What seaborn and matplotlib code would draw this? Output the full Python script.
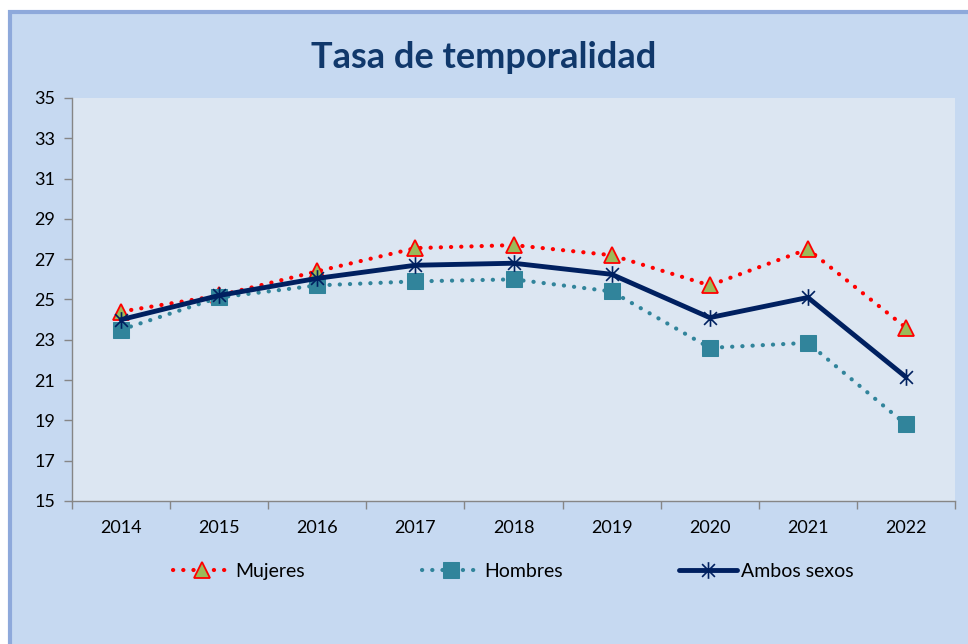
import matplotlib
matplotlib.use("Agg")
import matplotlib.pyplot as plt
import seaborn as sns
import pandas as pd
from matplotlib.patches import Rectangle
from matplotlib.path import Path

years = ['2014', '2015', '2016', '2017', '2018', '2019', '2020', '2021', '2022']
mujeres = [24.4, 25.2, 26.4, 27.55, 27.7, 27.2, 25.7, 27.5, 23.6]
hombres = [23.5, 25.1, 25.7, 25.9, 26.0, 25.4, 22.6, 22.85, 18.8]
ambos = [24.0, 25.2, 26.05, 26.7, 26.8, 26.25, 24.1, 25.1, 21.15]

df = pd.DataFrame({'x': range(len(years)), 'Mujeres': mujeres,
                   'Hombres': hombres, 'Ambos sexos': ambos})

sns.set_style('white')
plt.rcParams['font.family'] = ['Lato', 'DejaVu Sans']

# Excel style star marker: an X with a vertical bar
star = Path([(-1, -1), (1, 1), (-1, 1), (1, -1), (0, -1.3), (0, 1.3)],
            [Path.MOVETO, Path.LINETO, Path.MOVETO, Path.LINETO,
             Path.MOVETO, Path.LINETO])

fig = plt.figure(figsize=(9.68, 6.44), dpi=100, facecolor='white')
fig.patches.append(Rectangle((10 / 968, -0.01), 1.0, 1 - 12 / 644 + 0.01,
                             transform=fig.transFigure, facecolor='#C6D9F1',
                             edgecolor='#8EA9DB', linewidth=3, zorder=-5))
ax = fig.add_axes([72 / 968, 1 - 501 / 644, (955 - 72) / 968, (501 - 98) / 644])
ax.set_zorder(2)
ax.set_facecolor('#DCE6F2')

dots = (0, (0.05, 2.4))
sns.lineplot(data=df, x='x', y='Mujeres', ax=ax, color='#FF0000',
             linestyle=dots, linewidth=3.0, dash_capstyle='round',
             marker='^', markersize=12, markerfacecolor='#9BBB59',
             markeredgecolor='#FF0000', markeredgewidth=1.3, label='Mujeres')
sns.lineplot(data=df, x='x', y='Hombres', ax=ax, color='#31849B',
             linestyle=dots, linewidth=3.0, dash_capstyle='round',
             marker='s', markersize=11, markerfacecolor='#31849B',
             markeredgecolor='#31849B', label='Hombres')
sns.lineplot(data=df, x='x', y='Ambos sexos', ax=ax, color='#002060',
             linewidth=3.5, marker=star, markersize=12, markerfacecolor='none',
             markeredgecolor='#002060', markeredgewidth=1.2, label='Ambos sexos')

ax.set_xlim(-0.5, len(years) - 0.5)
ax.set_ylim(15, 35)
ax.set_yticks(range(15, 36, 2))
ax.set_xticks(range(len(years)))
ax.set_xticklabels(years)
ax.set_xticks([i - 0.5 for i in range(len(years) + 1)], minor=True)
ax.tick_params(axis='x', which='major', length=0, pad=14, labelsize=13,
               labelcolor='black')
ax.tick_params(axis='x', which='minor', length=6, width=1, color='#868686',
               direction='out', bottom=True)
ax.tick_params(axis='y', length=6, width=1, color='#868686', direction='out',
               left=True, labelsize=13, pad=6, labelcolor='black')
ax.set_xlabel('')
ax.set_ylabel('')
for s in ['top', 'right']:
    ax.spines[s].set_visible(False)
for s in ['left', 'bottom']:
    ax.spines[s].set_color('#868686')
    ax.spines[s].set_linewidth(1)

fig.text(0.5, 1 - 58 / 644, 'Tasa de temporalidad', ha='center', va='center',
         fontsize=26, fontweight='bold', color='#10386B')

ax.legend(loc='center', bbox_to_anchor=(0.5, -0.175), ncol=3, frameon=False,
          fontsize=14, columnspacing=6, handlelength=3, handletextpad=0.2,
          labelcolor='black')

fig.savefig('out.png', dpi=100, facecolor=fig.get_facecolor())
